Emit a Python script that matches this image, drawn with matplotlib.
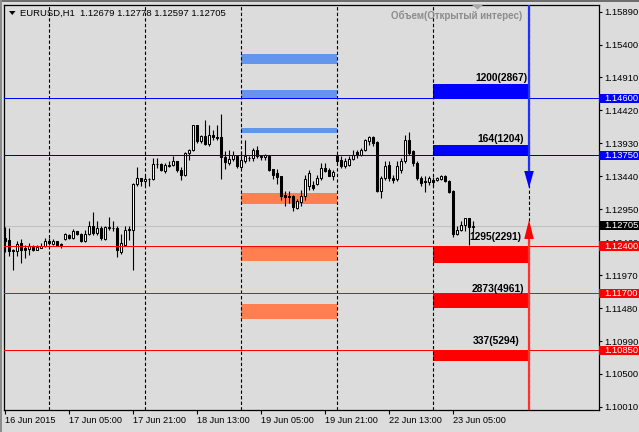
import matplotlib
matplotlib.use('Agg')
import matplotlib.pyplot as plt
from matplotlib.patches import Rectangle, Polygon
import matplotlib.transforms as mtransforms

plt.rcParams['font.family'] = ['Liberation Sans', 'DejaVu Sans']

# ---------------- data ----------------
opens = [1.12526, 1.12497, 1.12348, 1.12323, 1.12452, 1.12378, 1.12358, 1.12388, 1.12348, 1.12378,
         1.12397, 1.12471, 1.12437, 1.12471, 1.12412, 1.12512, 1.12571, 1.12522, 1.12620, 1.12586,
         1.12471, 1.12586, 1.12695, 1.12596, 1.12671, 1.12507, 1.12671, 1.12675, 1.12671, 1.12308,
         1.12422, 1.12656, 1.12645, 1.13330, 1.13414, 1.13364, 1.13404, 1.13399, 1.13627, 1.13627,
         1.13513, 1.13602, 1.13612, 1.13661, 1.13538, 1.13453, 1.13786, 1.13825, 1.14197, 1.13959,
         1.14044, 1.13925, 1.14059, 1.14024, 1.14024, 1.13727, 1.13638, 1.13697, 1.13746, 1.13578,
         1.13661, 1.13716, 1.13712, 1.13835, 1.13746, 1.13727, 1.13736, 1.13548, 1.13489, 1.13438,
         1.13166, 1.13151, 1.13151, 1.12968, 1.13052, 1.13141, 1.13290, 1.13315, 1.13330, 1.13414,
         1.13563, 1.13538, 1.13449, 1.13736, 1.13676, 1.13587, 1.13612, 1.13697, 1.13795, 1.13761,
         1.13835, 1.13959, 1.14024, 1.13950, 1.13215, 1.13414, 1.13612, 1.13414, 1.13400, 1.13538,
         1.13661, 1.13984, 1.13810, 1.13638, 1.13414, 1.13370, 1.13349, 1.13379, 1.13379, 1.13400,
         1.13449, 1.13364, 1.13215, 1.12586, 1.12645, 1.12720, 1.12819, 1.12679]
highs = [1.12690, 1.12671, 1.12355, 1.12471, 1.12512, 1.12422, 1.12448, 1.12422, 1.12422, 1.12448,
         1.12522, 1.12522, 1.12507, 1.12480, 1.12448, 1.12596, 1.12586, 1.12656, 1.12630, 1.12596,
         1.12645, 1.12779, 1.12909, 1.12769, 1.12695, 1.12695, 1.12834, 1.12769, 1.12695, 1.12586,
         1.12695, 1.12695, 1.13340, 1.13578, 1.13420, 1.13438, 1.13414, 1.13712, 1.13712, 1.13638,
         1.13638, 1.13661, 1.13746, 1.13670, 1.13578, 1.13795, 1.13846, 1.14207, 1.14207, 1.14059,
         1.14282, 1.14207, 1.14133, 1.14207, 1.14371, 1.13810, 1.13835, 1.13810, 1.13761, 1.13810,
         1.13984, 1.13746, 1.13861, 1.13885, 1.13761, 1.13776, 1.13745, 1.13555, 1.13548, 1.13445,
         1.13215, 1.13215, 1.13166, 1.13102, 1.13240, 1.13464, 1.13538, 1.13364, 1.13464, 1.13638,
         1.13638, 1.13563, 1.13538, 1.13761, 1.13736, 1.13712, 1.13736, 1.13835, 1.13835, 1.13861,
         1.13995, 1.14044, 1.14044, 1.13959, 1.13438, 1.13661, 1.13661, 1.13464, 1.13661, 1.13712,
         1.14059, 1.14093, 1.13835, 1.13661, 1.13438, 1.13438, 1.13438, 1.13429, 1.13429, 1.13464,
         1.13464, 1.13379, 1.13240, 1.12695, 1.12769, 1.12825, 1.12825, 1.12778]
lows = [1.12318, 1.12248, 1.12050, 1.12248, 1.12150, 1.12224, 1.12274, 1.12323, 1.12338, 1.12373,
        1.12388, 1.12422, 1.12422, 1.12407, 1.12373, 1.12497, 1.12512, 1.12512, 1.12571, 1.12457,
        1.12457, 1.12571, 1.12571, 1.12571, 1.12497, 1.12497, 1.12645, 1.12620, 1.12233, 1.12288,
        1.12397, 1.12497, 1.12050, 1.13290, 1.13290, 1.13315, 1.13300, 1.13389, 1.13563, 1.13513,
        1.13489, 1.13578, 1.13597, 1.13498, 1.13389, 1.13445, 1.13687, 1.13810, 1.13935, 1.13935,
        1.13910, 1.13885, 1.13984, 1.13974, 1.13400, 1.13548, 1.13612, 1.13661, 1.13563, 1.13563,
        1.13638, 1.13661, 1.13661, 1.13712, 1.13687, 1.13687, 1.13520, 1.13400, 1.13330, 1.13092,
        1.12992, 1.13043, 1.12918, 1.12953, 1.12992, 1.13092, 1.13240, 1.13240, 1.13315, 1.13389,
        1.13505, 1.13438, 1.13389, 1.13638, 1.13563, 1.13563, 1.13587, 1.13687, 1.13712, 1.13746,
        1.13810, 1.13910, 1.13885, 1.13203, 1.13117, 1.13389, 1.13364, 1.13340, 1.13364, 1.13489,
        1.13638, 1.13761, 1.13587, 1.13389, 1.13290, 1.13200, 1.13315, 1.13290, 1.13364, 1.13389,
        1.13355, 1.13191, 1.12537, 1.12571, 1.12620, 1.12620, 1.12412, 1.12597]
closes = [1.12471, 1.12323, 1.12323, 1.12437, 1.12348, 1.12338, 1.12407, 1.12338, 1.12388, 1.12397,
          1.12471, 1.12448, 1.12471, 1.12422, 1.12437, 1.12576, 1.12522, 1.12620, 1.12586, 1.12471,
          1.12586, 1.12695, 1.12596, 1.12675, 1.12522, 1.12686, 1.12686, 1.12665, 1.12348, 1.12448,
          1.12645, 1.12641, 1.13330, 1.13414, 1.13364, 1.13404, 1.13394, 1.13627, 1.13617, 1.13538,
          1.13612, 1.13593, 1.13661, 1.13528, 1.13453, 1.13786, 1.13825, 1.14197, 1.13959, 1.14044,
          1.13925, 1.14059, 1.14024, 1.14014, 1.13727, 1.13647, 1.13697, 1.13761, 1.13587, 1.13676,
          1.13736, 1.13706, 1.13835, 1.13746, 1.13727, 1.13751, 1.13528, 1.13464, 1.13423, 1.13151,
          1.13132, 1.13132, 1.12983, 1.13066, 1.13151, 1.13400, 1.13489, 1.13266, 1.13414, 1.13563,
          1.13513, 1.13449, 1.13498, 1.13661, 1.13587, 1.13661, 1.13697, 1.13761, 1.13761, 1.13835,
          1.13974, 1.14024, 1.13935, 1.13215, 1.13414, 1.13587, 1.13414, 1.13389, 1.13587, 1.13661,
          1.13984, 1.13786, 1.13638, 1.13414, 1.13340, 1.13359, 1.13414, 1.13359, 1.13414, 1.13438,
          1.13364, 1.13200, 1.12581, 1.12645, 1.12720, 1.12819, 1.12684, 1.12705]

time_tick_bars = [0, 16, 32, 48, 64, 80, 96, 112]
time_tick_labels = ['16 Jun 2015', '17 Jun 05:00', '17 Jun 21:00', '18 Jun 13:00',
                    '19 Jun 05:00', '19 Jun 21:00', '22 Jun 13:00', '23 Jun 05:00']
day_separator_bars = [11, 35, 59, 83, 107, 131]

price_ticks = [1.10010, 1.10500, 1.10990, 1.11480, 1.11970, 1.12460, 1.12950,
               1.13440, 1.13930, 1.14420, 1.14910, 1.15400, 1.15890]

prev_span = (59, 83)
prev_call_zones = [(1.15110, 1.15260), (1.14600, 1.14720), (1.14080, 1.14155)]
prev_put_zones = [(1.13028, 1.13191), (1.12185, 1.12400), (1.11317, 1.11540)]

cur_span = (107, 131)
call_levels = [1.14600, 1.13750]
call_zone_tops = [1.14813, 1.13905]
call_labels = ['1200(2867)', '164(1204)']
put_levels = [1.12400, 1.11700, 1.10850]
put_zone_bottoms = [1.12155, 1.11485, 1.10688]
put_labels = ['1295(2291)', '2873(4961)', '337(5294)']

last_price = 1.12705
arrow_bar = 131
arrow_down_tip = 1.13266
arrow_up_tip = 1.12790

symbol_header = 'EURUSD,H1  1.12679 1.12778 1.12597 1.12705'
indicator_title = 'Объем(Открытый интерес)'

# ---------------- layout ----------------
W, H = 639, 432
BG = '#DCDCDC'
L, R, T, B = 4.3, 598.7, 4.7, 410.0
ymin, ymax = 1.09964, 1.15992
xmin, xmax = -0.25, 148.43

fig = plt.figure(figsize=(W / 100, H / 100), dpi=100, facecolor=BG)
ax = fig.add_axes([L / W, 1 - B / H, (R - L) / W, (B - T) / H], facecolor=BG)
ax.set_xlim(xmin, xmax)
ax.set_ylim(ymin, ymax)
for s in ax.spines.values():
    s.set_color('black')
    s.set_linewidth(0.9)

px_per_price = (B - T) / (ymax - ymin)


def px(x, y):
    return (x / W, 1 - y / H)


# zones
for lo, hi in prev_call_zones:
    ax.add_patch(Rectangle((prev_span[0], lo), prev_span[1] - prev_span[0], hi - lo,
                           facecolor='#6495ED', edgecolor='none', zorder=1))
for lo, hi in prev_put_zones:
    ax.add_patch(Rectangle((prev_span[0], lo), prev_span[1] - prev_span[0], hi - lo,
                           facecolor='#FF7F50', edgecolor='none', zorder=1))
for lvl, top in zip(call_levels, call_zone_tops):
    ax.add_patch(Rectangle((cur_span[0], lvl), cur_span[1] - cur_span[0], top - lvl,
                           facecolor='#0000FF', edgecolor='none', zorder=1))
for lvl, bot in zip(put_levels, put_zone_bottoms):
    ax.add_patch(Rectangle((cur_span[0], bot), cur_span[1] - cur_span[0], lvl - bot,
                           facecolor='#FF0000', edgecolor='none', zorder=1))

# day separators
for b in day_separator_bars:
    ax.axvline(b, color='black', lw=0.8, ls=(0, (3.0, 2.0)), zorder=2)

# current price line
ax.axhline(last_price, color='#C0C0C0', lw=0.6, zorder=2, antialiased=False)

# candles
n = len(opens)
for i in range(n):
    o, h, l, c = opens[i], highs[i], lows[i], closes[i]
    ax.vlines(i, l, h, color='black', lw=0.8, zorder=3)
    bull = c >= o
    bottom = min(o, c)
    height = abs(c - o)
    ax.add_patch(Rectangle((i - 0.25, bottom), 0.5, height,
                           facecolor='white' if bull else 'black',
                           edgecolor='black', lw=0.75, zorder=4))

# level lines
ax.axhline(call_levels[0], color='#0000FF', lw=0.6, zorder=5, antialiased=False)
ax.axhline(call_levels[1], color='#0000A0', lw=0.6, zorder=5, antialiased=False)
for lvl in put_levels:
    ax.axhline(lvl, color='#FF0000', lw=0.6, zorder=5, antialiased=False)

# arrows
hw = 1.2
hl = 17 / px_per_price
ax.plot([arrow_bar, arrow_bar], [ymax, arrow_down_tip + hl], color='#2030FF', lw=1.6,
        zorder=6, solid_capstyle='butt')
ax.add_patch(Polygon([(arrow_bar - hw, arrow_down_tip + hl), (arrow_bar + hw, arrow_down_tip + hl),
                      (arrow_bar, arrow_down_tip)], closed=True, facecolor='#0000FF',
                     edgecolor='none', zorder=6))
hl2 = 19 / px_per_price
ax.plot([arrow_bar, arrow_bar], [ymin, arrow_up_tip - hl2], color='#FF3030', lw=1.6,
        zorder=6, solid_capstyle='butt')
ax.add_patch(Polygon([(arrow_bar - hw, arrow_up_tip - hl2), (arrow_bar + hw, arrow_up_tip - hl2),
                      (arrow_bar, arrow_up_tip)], closed=True, facecolor='#FF0000',
                     edgecolor='none', zorder=6))

# volume labels
label_font = dict(fontsize=7.4, fontweight='bold', color='black', zorder=7)
call_text_pos = [(124.0, 1.14902), (124.0, 1.13995)]
put_text_pos = [(122.6, 1.12537), (123.1, 1.11763), (122.75, 1.10990)]
for (x, y), t in zip(call_text_pos, call_labels):
    ax.text(x, y, t, ha='center', va='center', **label_font)
for (x, y), t in zip(put_text_pos, put_labels):
    ax.text(x, y, t, ha='center', va='center', **label_font)

# axes ticks
ax.yaxis.tick_right()
ax.set_yticks(price_ticks)
ax.set_yticklabels([f'{v:.5f}' for v in price_ticks])
ax.tick_params(axis='y', length=2.3, width=0.8, pad=1.6, labelsize=6.8, colors='black')
ax.set_xticks(time_tick_bars)
ax.set_xticklabels(time_tick_labels)
for lab in ax.get_xticklabels():
    lab.set_horizontalalignment('left')
ax.tick_params(axis='x', length=2.8, width=0.8, pad=1.5, labelsize=6.6, colors='black')

# price boxes on right axis
trans = mtransforms.blended_transform_factory(ax.transAxes, ax.transData)
box_h = 9.5 / px_per_price
box_x0 = 1.0 + 0.6 / (R - L)
box_w = (W - R) / (R - L)
boxes = [(call_levels[0], '#0000FF'), (call_levels[1], '#0000FF'), (last_price, 'black')] + \
        [(p, '#FF0000') for p in put_levels]
for price, col in boxes:
    ax.add_patch(Rectangle((box_x0, price - box_h / 2), box_w, box_h, transform=trans,
                           facecolor=col, edgecolor='none', clip_on=False, zorder=10))
    ax.text(1.0 + 5.4 / (R - L), price, f'{price:.5f}', transform=trans, color='white',
            fontsize=6.8, va='center', ha='left', clip_on=False, zorder=11)

# header and title
fig.text(*px(20, 13.2), symbol_header, fontsize=6.8, va='center', ha='left', color='black')
fig.add_artist(Polygon([px(9, 11), px(15.5, 11), px(12.25, 15)], closed=True,
                       transform=fig.transFigure, facecolor='black', edgecolor='none'))
fig.text(*px(456.7, 15.7), indicator_title, fontsize=7.0, fontweight='bold', va='center',
         ha='center', color='#8C8C8C')
fig.add_artist(Polygon([px(471.7, 4.7), px(483.3, 4.7), px(477.5, 9.5)], closed=True,
                       transform=fig.transFigure, facecolor='#A8A8A8', edgecolor='none'))

# window borders
fig.add_artist(Rectangle(px(0, 1.6), 1, 1.6 / H, transform=fig.transFigure,
                         facecolor='#6E6E6E', edgecolor='none'))
fig.add_artist(Rectangle(px(0, H), 2.3 / W, 1, transform=fig.transFigure,
                         facecolor='#8C8C8C', edgecolor='none'))

fig.savefig('out.png', dpi=100, facecolor=BG)
